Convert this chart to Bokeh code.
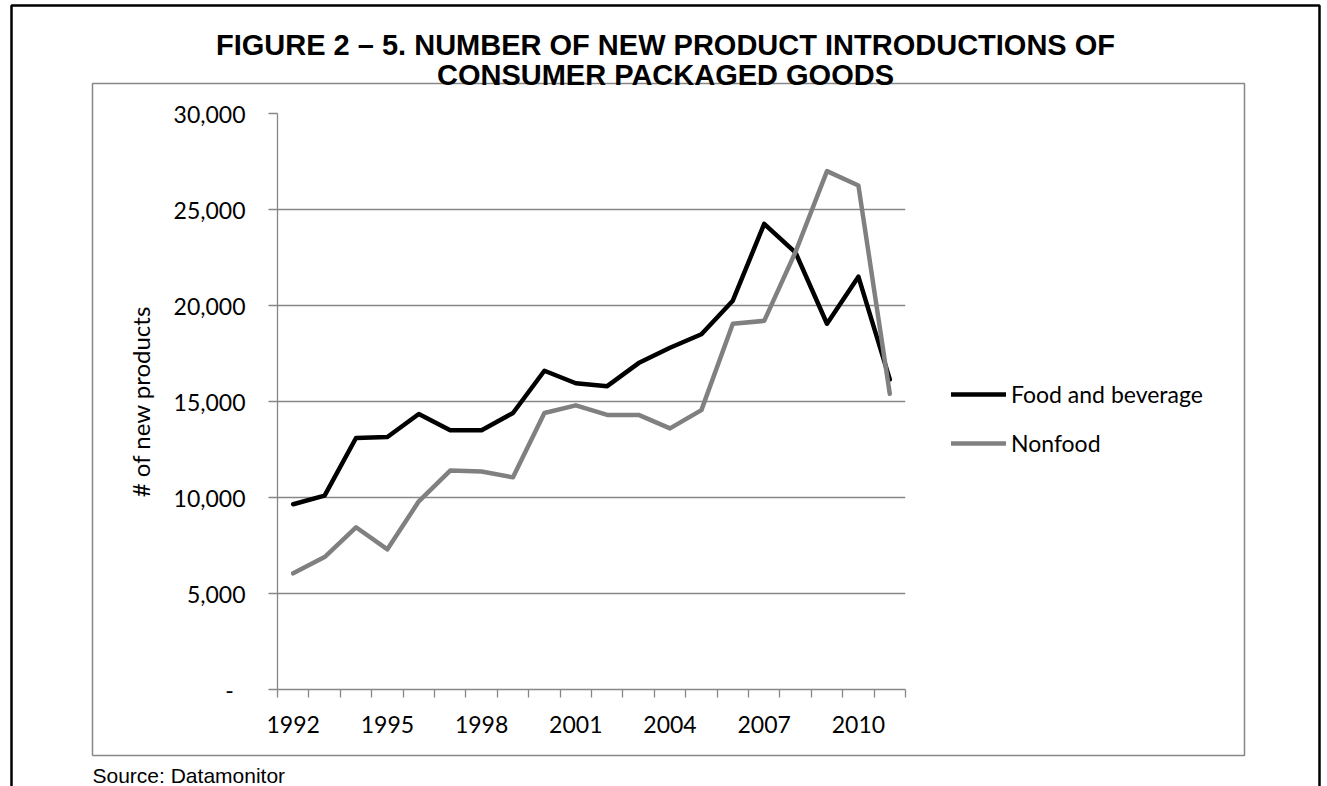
from bokeh.plotting import figure
from bokeh.models import (Range1d, FixedTicker, NumeralTickFormatter, Legend, LegendItem)
from bokeh.core.properties import value
from bokeh.embed import file_html
from bokeh.resources import INLINE

# New product introductions of consumer packaged goods, 1992-2011
years = list(range(1992, 2012))
food_and_beverage = [9650, 10100, 13100, 13150, 14350, 13500, 13500, 14400, 16600, 15950,
                     15800, 17000, 17800, 18500, 20250, 24250, 22750, 19050, 21500, 16150]
nonfood = [6050, 6900, 8450, 7300, 9800, 11400, 11350, 11050, 14400, 14800,
           14300, 14300, 13600, 14550, 19050, 19200, 22800, 27000, 26250, 15400]
y_ticks = [0, 5000, 10000, 15000, 20000, 25000, 30000]
x_label_years = [1992, 1995, 1998, 2001, 2004, 2007, 2010]

title_lines = ["FIGURE 2 \u2013 5. NUMBER OF NEW PRODUCT INTRODUCTIONS OF",
               "CONSUMER PACKAGED GOODS"]
source_text = "Source: Datamonitor"

W, H = 1327, 786
FRAME_L, FRAME_R, FRAME_T, FRAME_B = 277, 905, 113, 689
LEGEND_PANEL_W = 275
AXIS_GREY = "#878787"
BODY_FONT = "Lato"

p = figure(frame_width=FRAME_R - FRAME_L, frame_height=FRAME_B - FRAME_T,
           output_backend="svg", toolbar_location=None,
           x_range=Range1d(years[0] - 0.5, years[-1] + 0.5),
           y_range=Range1d(0, 30000),
           min_border_left=FRAME_L, min_border_right=W - FRAME_R - LEGEND_PANEL_W,
           min_border_top=FRAME_T, min_border_bottom=H - FRAME_B)
p.outline_line_color = None
p.background_fill_color = "white"
p.border_fill_color = "white"

# pixel-space ranges for the page furniture (title, frames, source note)
p.extra_x_ranges = {"px": Range1d(FRAME_L, FRAME_R)}
p.extra_y_ranges = {"px": Range1d(FRAME_B, FRAME_T)}

# y axis
p.yaxis.ticker = FixedTicker(ticks=y_ticks, minor_ticks=[])
p.yaxis.formatter = NumeralTickFormatter(format="0,0")
p.yaxis.major_label_overrides = {0: "-\u00a0\u00a0"}
p.yaxis.axis_line_color = AXIS_GREY
p.yaxis.axis_line_width = 1.3
p.yaxis.major_tick_line_color = AXIS_GREY
p.yaxis.major_tick_line_width = 1.3
p.yaxis.major_tick_out = 9
p.yaxis.major_tick_in = 0
p.yaxis.minor_tick_line_color = None
p.yaxis.major_label_standoff = 23
p.yaxis.major_label_text_font = BODY_FONT
p.yaxis.major_label_text_font_size = "23px"
p.yaxis.major_label_text_color = "black"
p.yaxis.axis_label = "# of new products"
p.yaxis.axis_label_text_font = BODY_FONT
p.yaxis.axis_label_text_font_size = "24px"
p.yaxis.axis_label_text_font_style = "normal"
p.yaxis.axis_label_text_color = "black"
p.yaxis.axis_label_standoff = 16

# x axis: labels every third year, tick marks between categories
boundaries = [y - 0.5 for y in years] + [years[-1] + 0.5]
p.xaxis.ticker = FixedTicker(ticks=x_label_years, minor_ticks=boundaries)
p.xaxis.axis_line_color = AXIS_GREY
p.xaxis.axis_line_width = 1.3
p.xaxis.major_tick_line_color = None
p.xaxis.major_tick_out = 0
p.xaxis.major_tick_in = 0
p.xaxis.minor_tick_line_color = AXIS_GREY
p.xaxis.minor_tick_line_width = 1.3
p.xaxis.minor_tick_out = 8
p.xaxis.minor_tick_in = 0
p.xaxis.major_label_standoff = 18
p.xaxis.major_label_text_font = BODY_FONT
p.xaxis.major_label_text_font_size = "23px"
p.xaxis.major_label_text_color = "black"

p.xgrid.grid_line_color = None
p.ygrid.ticker = FixedTicker(ticks=y_ticks[1:])
p.ygrid.grid_line_color = AXIS_GREY
p.ygrid.grid_line_width = 1.3

# series
r_food = p.line(years, food_and_beverage, line_color="black", line_width=4.5,
                line_join="round", line_cap="round")
r_nonfood = p.line(years, nonfood, line_color="#808080", line_width=4.5,
                   line_join="round", line_cap="round")

legend = Legend(items=[LegendItem(label="Food and beverage", renderers=[r_food]),
                       LegendItem(label="Nonfood", renderers=[r_nonfood])],
                location=(46, 232), orientation="vertical",
                glyph_width=55, glyph_height=24, label_height=24,
                label_standoff=5, spacing=21, padding=0, margin=0,
                border_line_color=None, background_fill_alpha=0,
                label_text_font=BODY_FONT, label_text_font_size="23px",
                label_text_color="black")
p.add_layout(legend, "right")

# framing boxes, drawn in pixel space above the frame clip
furniture = dict(x_range_name="px", y_range_name="px", level="overlay")
p.line([92, 92, 1244, 1244, 92], [755, 83, 83, 755, 755],
       line_color=AXIS_GREY, line_width=1.5, **furniture)
p.line([11, 11, 1319, 1319], [800, 5, 5, 800],
       line_color="black", line_width=2.5, **furniture)

# title and source note
p.text(x=[665, 665], y=[44, 74], text=title_lines,
       text_align="center", text_baseline="alphabetic",
       text_font=value("Liberation Sans"), text_font_style="bold",
       text_font_size="29px", text_color="black", **furniture)
p.text(x=[92], y=[775], text=[source_text],
       text_align="left", text_baseline="alphabetic",
       text_font=value("Liberation Sans"), text_font_size="21px",
       text_color="black", **furniture)

open("out.html", "w").write(file_html(p, INLINE))
